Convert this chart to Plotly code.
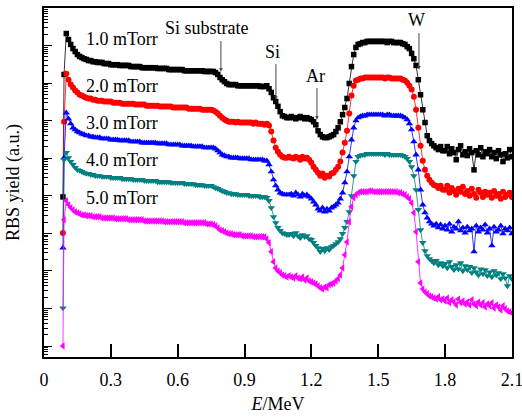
import plotly.graph_objects as go

# ---------------- data ----------------
# energy channels (MeV)
lead_energy = [0.085, 0.09]
energy = [round(0.10 + 0.01 * i, 2) for i in range(201)]  # 0.10 ... 2.10

# log10 of RBS yield (a.u.) ; curves offset vertically in the original figure
lead_1 = [4.97, 8.23]
logy_1 = [9.32, 9.16, 9.03, 8.92, 8.84, 8.76, 8.71, 8.68, 8.65, 8.63,
          8.60, 8.60, 8.57, 8.57, 8.55, 8.55, 8.55, 8.52, 8.52, 8.52,
          8.49, 8.49, 8.49, 8.49, 8.47, 8.47, 8.47, 8.47, 8.47, 8.44,
          8.44, 8.44, 8.44, 8.44, 8.41, 8.41, 8.41, 8.41, 8.41, 8.41,
          8.41, 8.39, 8.39, 8.39, 8.39, 8.39, 8.36, 8.36, 8.36, 8.36,
          8.36, 8.36, 8.36, 8.33, 8.33, 8.33, 8.33, 8.33, 8.33, 8.33,
          8.33, 8.33, 8.31, 8.31, 8.31, 8.31, 8.31, 8.28, 8.23, 8.15,
          8.09, 8.04, 7.99, 7.96, 7.96, 7.96, 7.96, 7.93, 7.93, 7.93,
          7.93, 7.93, 7.93, 7.93, 7.93, 7.93, 7.93, 7.91, 7.91, 7.91,
          7.93, 7.85, 7.75, 7.61, 7.51, 7.38, 7.24, 7.13, 7.11, 7.08,
          7.08, 7.11, 7.08, 7.05, 7.08, 7.11, 7.08, 7.05, 7.08, 7.05,
          7.03, 6.97, 6.89, 6.73, 6.63, 6.57, 6.55, 6.55, 6.57, 6.60,
          6.63, 6.71, 6.81, 6.97, 7.16, 7.35, 7.59, 7.99, 8.44, 8.76,
          8.95, 9.03, 9.05, 9.08, 9.08, 9.11, 9.11, 9.11, 9.11, 9.11,
          9.11, 9.11, 9.11, 9.11, 9.08, 9.11, 9.11, 9.08, 9.08, 9.08,
          9.08, 9.05, 9.03, 8.97, 8.92, 8.79, 8.65, 8.47, 8.09, 7.69,
          7.29, 6.95, 6.60, 6.47, 6.39, 6.33, 6.28, 6.23, 6.31, 6.20,
          6.20, 6.31, 6.12, 6.25, 6.15, 5.96, 6.23, 6.33, 6.09, 6.17,
          6.07, 6.25, 6.15, 5.69, 6.20, 6.09, 6.28, 6.04, 6.17, 6.12,
          6.23, 6.04, 6.15, 5.99, 6.20, 6.09, 5.91, 6.12, 6.01, 6.23,
          6.04]

lead_2 = [4.01, 6.97]
logy_2 = [8.25, 8.09, 7.96, 7.88, 7.80, 7.75, 7.69, 7.67, 7.64, 7.61,
          7.59, 7.59, 7.56, 7.56, 7.53, 7.53, 7.53, 7.51, 7.51, 7.51,
          7.51, 7.48, 7.48, 7.48, 7.48, 7.45, 7.45, 7.45, 7.45, 7.45,
          7.45, 7.43, 7.43, 7.43, 7.43, 7.43, 7.40, 7.40, 7.40, 7.40,
          7.40, 7.40, 7.38, 7.38, 7.38, 7.38, 7.38, 7.38, 7.35, 7.35,
          7.35, 7.35, 7.35, 7.35, 7.35, 7.32, 7.32, 7.32, 7.32, 7.32,
          7.32, 7.29, 7.29, 7.29, 7.29, 7.29, 7.27, 7.24, 7.19, 7.13,
          7.08, 7.03, 7.00, 6.97, 6.97, 6.97, 6.95, 6.97, 6.95, 6.95,
          6.95, 6.95, 6.95, 6.95, 6.92, 6.95, 6.92, 6.92, 6.92, 6.89,
          6.92, 6.87, 6.71, 6.47, 6.28, 6.17, 6.09, 6.04, 6.01, 6.01,
          6.04, 6.01, 5.99, 6.04, 6.01, 5.96, 6.04, 5.99, 6.01, 5.96,
          5.88, 5.77, 5.69, 5.61, 5.53, 5.59, 5.48, 5.53, 5.51, 5.59,
          5.61, 5.69, 5.77, 5.91, 6.15, 6.41, 6.73, 7.19, 7.67, 7.93,
          8.07, 8.09, 8.12, 8.12, 8.15, 8.15, 8.15, 8.15, 8.15, 8.15,
          8.15, 8.15, 8.15, 8.12, 8.15, 8.15, 8.12, 8.12, 8.12, 8.12,
          8.12, 8.09, 8.07, 8.01, 7.93, 7.83, 7.64, 7.29, 6.81, 6.33,
          5.93, 5.69, 5.53, 5.43, 5.35, 5.29, 5.27, 5.21, 5.27, 5.16,
          5.16, 5.27, 5.08, 5.21, 5.13, 5.03, 5.19, 5.11, 5.24, 5.05,
          5.13, 5.00, 5.19, 5.05, 4.95, 5.16, 5.08, 4.97, 5.11, 5.03,
          5.08, 4.95, 5.13, 5.00, 5.05, 4.92, 5.11, 4.97, 5.03, 5.08,
          4.97]

lead_3 = [3.61, 6.01]
logy_3 = [7.21, 7.05, 6.92, 6.81, 6.76, 6.71, 6.68, 6.65, 6.63, 6.60,
          6.60, 6.57, 6.57, 6.55, 6.55, 6.55, 6.52, 6.52, 6.52, 6.52,
          6.49, 6.49, 6.49, 6.49, 6.47, 6.47, 6.47, 6.47, 6.47, 6.44,
          6.44, 6.44, 6.44, 6.44, 6.41, 6.41, 6.41, 6.41, 6.41, 6.41,
          6.41, 6.39, 6.39, 6.39, 6.39, 6.39, 6.36, 6.36, 6.36, 6.36,
          6.36, 6.36, 6.33, 6.33, 6.33, 6.33, 6.33, 6.31, 6.31, 6.31,
          6.31, 6.31, 6.28, 6.28, 6.28, 6.28, 6.28, 6.25, 6.20, 6.15,
          6.09, 6.07, 6.04, 6.04, 6.01, 6.01, 6.01, 6.01, 5.99, 5.99,
          5.99, 5.99, 5.99, 5.96, 5.96, 5.96, 5.96, 5.96, 5.96, 5.93,
          5.93, 5.83, 5.64, 5.43, 5.27, 5.16, 5.08, 5.05, 5.03, 5.03,
          5.03, 5.05, 5.00, 5.08, 5.03, 4.97, 5.05, 5.00, 5.03, 4.97,
          4.92, 4.84, 4.76, 4.65, 4.60, 4.68, 4.57, 4.65, 4.60, 4.68,
          4.71, 4.76, 4.81, 4.92, 5.08, 5.35, 5.64, 6.04, 6.49, 6.81,
          7.00, 7.08, 7.11, 7.13, 7.13, 7.16, 7.16, 7.16, 7.16, 7.16,
          7.16, 7.16, 7.16, 7.13, 7.16, 7.16, 7.13, 7.13, 7.13, 7.13,
          7.13, 7.11, 7.08, 7.03, 6.92, 6.76, 6.44, 6.09, 5.69, 5.16,
          4.76, 4.55, 4.41, 4.31, 4.25, 4.20, 4.25, 4.15, 4.23, 4.12,
          4.20, 4.09, 4.25, 4.04, 4.17, 4.12, 4.31, 4.07, 4.15, 4.01,
          4.17, 4.07, 4.12, 3.51, 4.20, 4.04, 4.15, 4.09, 4.23, 4.01,
          4.12, 3.67, 4.17, 4.04, 4.09, 4.20, 3.99, 4.12, 4.07, 4.15,
          3.99]

lead_4 = [2.01, 5.96]
logy_4 = [6.15, 6.01, 5.91, 5.83, 5.75, 5.69, 5.67, 5.64, 5.61, 5.59,
          5.59, 5.56, 5.56, 5.53, 5.53, 5.53, 5.51, 5.51, 5.51, 5.51,
          5.48, 5.48, 5.48, 5.48, 5.48, 5.45, 5.45, 5.45, 5.45, 5.45,
          5.43, 5.43, 5.43, 5.43, 5.43, 5.40, 5.40, 5.40, 5.40, 5.40,
          5.40, 5.37, 5.37, 5.37, 5.37, 5.37, 5.37, 5.35, 5.35, 5.35,
          5.35, 5.35, 5.35, 5.32, 5.32, 5.32, 5.32, 5.32, 5.29, 5.29,
          5.29, 5.29, 5.27, 5.27, 5.27, 5.27, 5.24, 5.21, 5.19, 5.16,
          5.13, 5.11, 5.08, 5.08, 5.05, 5.05, 5.05, 5.03, 5.03, 5.03,
          5.03, 5.03, 5.00, 5.00, 5.00, 5.00, 5.00, 4.97, 4.97, 4.97,
          4.95, 4.87, 4.68, 4.44, 4.28, 4.15, 4.07, 4.01, 3.99, 3.96,
          3.96, 3.99, 3.93, 4.01, 3.93, 3.88, 3.96, 3.91, 3.93, 3.85,
          3.83, 3.75, 3.67, 3.61, 3.51, 3.59, 3.53, 3.61, 3.56, 3.64,
          3.67, 3.72, 3.77, 3.85, 3.99, 4.15, 4.31, 4.57, 5.00, 5.53,
          5.91, 6.04, 6.07, 6.09, 6.09, 6.12, 6.12, 6.12, 6.12, 6.12,
          6.12, 6.12, 6.12, 6.09, 6.12, 6.09, 6.09, 6.09, 6.09, 6.09,
          6.09, 6.07, 6.04, 5.99, 5.91, 5.77, 5.53, 5.16, 4.63, 4.09,
          3.75, 3.53, 3.40, 3.32, 3.27, 3.21, 3.27, 3.16, 3.21, 3.13,
          3.19, 3.08, 3.24, 3.11, 3.03, 3.16, 3.05, 3.21, 3.00, 3.13,
          3.03, 3.11, 2.95, 3.08, 2.97, 2.89, 3.05, 2.92, 3.03, 2.87,
          2.97, 2.84, 3.00, 2.89, 2.95, 2.79, 2.92, 2.81, 2.60, 2.87,
          2.79]

lead_5 = [1.00, 4.36]
logy_5 = [4.87, 4.76, 4.68, 4.63, 4.57, 4.55, 4.52, 4.49, 4.49, 4.47,
          4.47, 4.47, 4.44, 4.44, 4.44, 4.44, 4.41, 4.41, 4.41, 4.41,
          4.41, 4.41, 4.39, 4.39, 4.39, 4.39, 4.39, 4.39, 4.36, 4.36,
          4.36, 4.36, 4.36, 4.36, 4.36, 4.33, 4.33, 4.33, 4.33, 4.33,
          4.33, 4.33, 4.33, 4.33, 4.31, 4.31, 4.31, 4.31, 4.31, 4.31,
          4.31, 4.31, 4.31, 4.28, 4.28, 4.28, 4.28, 4.28, 4.28, 4.28,
          4.28, 4.28, 4.28, 4.25, 4.25, 4.25, 4.23, 4.20, 4.15, 4.09,
          4.07, 4.04, 4.01, 3.99, 3.99, 3.96, 3.96, 3.96, 3.96, 3.93,
          3.93, 3.93, 3.93, 3.93, 3.91, 3.91, 3.91, 3.91, 3.91, 3.91,
          3.85, 3.75, 3.51, 3.24, 3.08, 3.00, 2.95, 2.89, 2.87, 2.84,
          2.87, 2.84, 2.81, 2.87, 2.81, 2.79, 2.84, 2.76, 2.81, 2.73,
          2.71, 2.68, 2.65, 2.60, 2.55, 2.52, 2.57, 2.55, 2.63, 2.65,
          2.68, 2.73, 2.79, 2.89, 3.08, 3.43, 3.77, 4.31, 4.71, 4.95,
          5.03, 5.08, 5.11, 5.11, 5.11, 5.11, 5.13, 5.13, 5.11, 5.11,
          5.11, 5.11, 5.11, 5.11, 5.11, 5.11, 5.11, 5.11, 5.11, 5.08,
          5.08, 5.05, 5.03, 4.97, 4.92, 4.81, 4.55, 4.04, 3.24, 2.68,
          2.52, 2.44, 2.39, 2.33, 2.31, 2.28, 2.25, 2.31, 2.23, 2.25,
          2.20, 2.28, 2.15, 2.23, 2.17, 2.09, 2.25, 2.15, 2.20, 2.12,
          2.17, 2.09, 2.23, 2.12, 2.07, 2.17, 2.09, 2.15, 2.04, 2.12,
          2.07, 2.15, 2.01, 2.09, 2.04, 1.96, 2.07, 1.99, 1.93, 1.91,
          1.88]

series_names = ["1.0 mTorr", "2.0 mTorr", "3.0 mTorr", "4.0 mTorr", "5.0 mTorr"]
series_leads = [lead_1, lead_2, lead_3, lead_4, lead_5]
series_logy = [logy_1, logy_2, logy_3, logy_4, logy_5]

x_tick_vals = [0, 0.3, 0.6, 0.9, 1.2, 1.5, 1.8, 2.1]
x_tick_text = ["0", "0.3", "0.6", "0.9", "1.2", "1.5", "1.8", "2.1"]

# ---------------- styles ----------------
colors = ["#000000", "#ff0000", "#0000ff", "#008080", "#ff00ff"]
symbols = ["square", "circle", "triangle-up", "triangle-down", "triangle-left"]
sizes = [5.5, 6, 6.5, 6.5, 6.5]
label_pos = [(0.18, 9.17), (0.18, 7.92), (0.18, 6.95), (0.18, 5.96), (0.18, 4.95)]

FONT = "Liberation Serif, Times New Roman, serif"

fig = go.Figure()
for name, lead, logy, c, s, sz in zip(series_names, series_leads, series_logy,
                                       colors, symbols, sizes):
    xs = lead_energy + energy
    ys = [10 ** v for v in (lead + logy)]
    fig.add_trace(go.Scatter(
        x=xs, y=ys, mode="lines+markers", name=name,
        line=dict(color=c, width=0.8),
        marker=dict(symbol=s, size=sz, color=c, line=dict(width=0)),
        showlegend=False, cliponaxis=True,
    ))

# series labels
for name, (lx, ly) in zip(series_names, label_pos):
    fig.add_annotation(x=lx, y=ly, text=name, showarrow=False,
                       xanchor="left", yanchor="middle",
                       font=dict(family=FONT, size=18, color="black"))

# element labels and arrows
marks = [
    # text, text_x, text_y, tip_x, tip_y, tail offset (px)
    ("Si substrate", 0.731, 9.48, 0.794, 8.31, -32),
    ("Si", 1.025, 8.84, 1.041, 7.56, -37),
    ("Ar", 1.218, 8.18, 1.225, 7.03, -33),
    ("W", 1.674, 9.69, 1.683, 8.36, -38),
]
for txt, tx, ty, ax_, ay_, off in marks:
    fig.add_annotation(x=tx, y=ty, text=txt, showarrow=False,
                       xanchor="center", yanchor="middle",
                       font=dict(family=FONT, size=18, color="black"))
    fig.add_annotation(x=ax_, y=ay_, text="", showarrow=True,
                       ax=0, ay=off, arrowhead=2, arrowsize=0.7,
                       arrowwidth=1, arrowcolor="#444444")

fig.update_layout(
    width=522, height=420,
    margin=dict(l=44, r=10, t=8, b=63, autoexpand=False),
    paper_bgcolor="white", plot_bgcolor="white",
    font=dict(family=FONT, size=18, color="black"),
)
fig.update_xaxes(
    range=[0, 2.1005], tickvals=x_tick_vals, ticktext=x_tick_text,
    ticks="inside", ticklen=13, tickwidth=1.5, tickcolor="black",
    showline=True, linecolor="black", linewidth=1.5, mirror=True,
    showgrid=False, zeroline=False, automargin=False,
    ticklabelstandoff=6, ticklabeloverflow="allow",
    tickfont=dict(family=FONT, size=18, color="black"),
    title=dict(text="<i>E</i>/MeV", font=dict(family=FONT, size=18), standoff=8),
)
fig.update_yaxes(
    type="log", range=[0.707, 10.0], dtick=1,
    ticks="inside", ticklen=8, tickwidth=1.2, tickcolor="black",
    minor=dict(ticks="inside", ticklen=4, tickwidth=1, tickcolor="black", showgrid=False),
    showticklabels=False, automargin=False,
    showline=True, linecolor="black", linewidth=1.5, mirror=True,
    showgrid=False, zeroline=False,
    title=dict(text="RBS yield (a.u.)", font=dict(family=FONT, size=18), standoff=18),
)

fig.write_html("out.html")
